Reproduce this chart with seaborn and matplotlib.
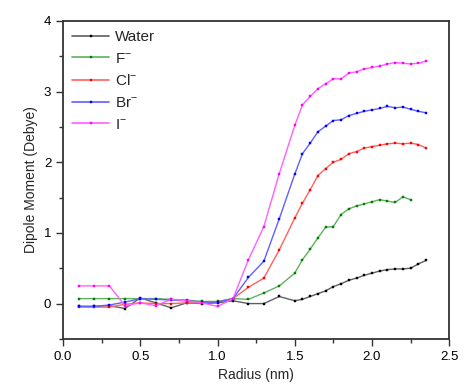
import numpy as np
import pandas as pd
import matplotlib
matplotlib.use("Agg")
import matplotlib.pyplot as plt
import seaborn as sns
from matplotlib.ticker import MultipleLocator
from matplotlib.lines import Line2D

radius = [0.1, 0.2, 0.3, 0.4, 0.5, 0.6, 0.7, 0.8, 0.9, 1.0, 1.1, 1.2, 1.3, 1.4, 1.5,
          1.55, 1.6, 1.65, 1.7, 1.75, 1.8, 1.85, 1.9, 1.95, 2.0, 2.05, 2.1, 2.15,
          2.2, 2.25, 2.3, 2.35]

water = [-0.04, -0.04, -0.03, -0.07, 0.08, 0.01, -0.06, 0.01, 0.0, 0.01, 0.04,
         0.0, 0.0, 0.10, 0.04,
         0.06, 0.10, 0.14, 0.18, 0.24, 0.28, 0.33, 0.36, 0.40, 0.43, 0.46, 0.48,
         0.49, 0.49, 0.50, 0.56, 0.61]
fluoride = [0.07, 0.07, 0.07, 0.07, 0.07, 0.07, 0.06, 0.05, 0.03, 0.03, 0.07,
            0.06, 0.15, 0.25, 0.43,
            0.62, 0.77, 0.93, 1.08, 1.09, 1.26, 1.34, 1.38, 1.41, 1.44, 1.47,
            1.45, 1.43, 1.51, 1.47]
chloride = [-0.05, -0.05, -0.05, -0.01, 0.01, 0.0, 0.0, 0.01, 0.01, 0.02, 0.07,
            0.23, 0.36, 0.76, 1.21,
            1.42, 1.61, 1.81, 1.91, 2.00, 2.04, 2.12, 2.15, 2.20, 2.22, 2.24,
            2.26, 2.27, 2.26, 2.27, 2.25, 2.20]
bromide = [-0.04, -0.04, -0.02, 0.02, 0.07, 0.06, 0.05, 0.04, 0.02, 0.02, 0.07,
           0.37, 0.60, 1.20, 1.83,
           2.12, 2.27, 2.43, 2.51, 2.59, 2.60, 2.66, 2.69, 2.72, 2.74, 2.76,
           2.79, 2.77, 2.78, 2.75, 2.72, 2.70]
iodide = [0.25, 0.25, 0.25, -0.03, 0.01, -0.03, 0.06, 0.04, 0.01, -0.04, 0.07,
          0.62, 1.09, 1.84, 2.52,
          2.81, 2.93, 3.04, 3.11, 3.18, 3.18, 3.26, 3.28, 3.32, 3.34, 3.36,
          3.39, 3.41, 3.40, 3.39, 3.40, 3.43]

labels = ["Water", "F$^{-}$", "Cl$^{-}$", "Br$^{-}$", "I$^{-}$"]
series_values = [water, fluoride, chloride, bromide, iodide]
line_colors = ["#606060", "#60b060", "#ff6060", "#6060ff", "#ff60ff"]
marker_colors = ["#000000", "#008000", "#ff0000", "#0000ff", "#ff00ff"]

rows = []
for lab, vals in zip(labels, series_values):
    for x, v in zip(radius[:len(vals)], vals):
        rows.append({"Radius": x, "Dipole": v, "Series": lab})
df = pd.DataFrame(rows)

sns.set_style("ticks")
plt.rcParams["font.family"] = ["Liberation Sans", "DejaVu Sans"]
plt.rcParams["mathtext.default"] = "regular"

fig = plt.figure(figsize=(4.64, 3.86), dpi=100)
ax = fig.add_axes([0.136, 0.122, 0.832, 0.824])

handles = []
for lab, lc, mc in zip(labels, line_colors, marker_colors):
    sub = df[df["Series"] == lab]
    sns.lineplot(data=sub, x="Radius", y="Dipole", ax=ax, color=lc, lw=1.0,
                 marker="s", ms=1.9, mew=0.3, mfc=mc, mec=mc,
                 sort=False, estimator=None, legend=False)
    handles.append(Line2D([], [], color=lc, lw=1.2, marker="s", markersize=1.9,
                          markeredgewidth=0.3, markerfacecolor=mc, markeredgecolor=mc))

ax.set_xlim(0, 2.5)
ax.set_ylim(-0.5, 4)
ax.xaxis.set_major_locator(MultipleLocator(0.5))
ax.xaxis.set_minor_locator(MultipleLocator(0.25))
ax.yaxis.set_major_locator(MultipleLocator(1))
ax.yaxis.set_minor_locator(MultipleLocator(0.5))
ax.xaxis.set_major_formatter(matplotlib.ticker.FormatStrFormatter("%.1f"))
ax.tick_params(which="major", direction="out", length=5, width=1, labelsize=9.5,
               top=False, right=False, colors="#333333", labelcolor="black")
ax.tick_params(which="minor", direction="out", length=3, width=1,
               top=False, right=False, colors="#333333")
for s in ax.spines.values():
    s.set_color("#333333")
    s.set_linewidth(1.3)

ax.set_xlabel("Radius (nm)", fontsize=10)
ax.set_ylabel("Dipole Moment (Debye)", fontsize=10)

ax.legend(handles, labels, loc="upper left", frameon=False, fontsize=11,
          handlelength=2.4, handletextpad=0.4, labelspacing=0.5,
          borderaxespad=0.2, bbox_to_anchor=(0.0, 1.0))

fig.savefig("out.png", dpi=100)
